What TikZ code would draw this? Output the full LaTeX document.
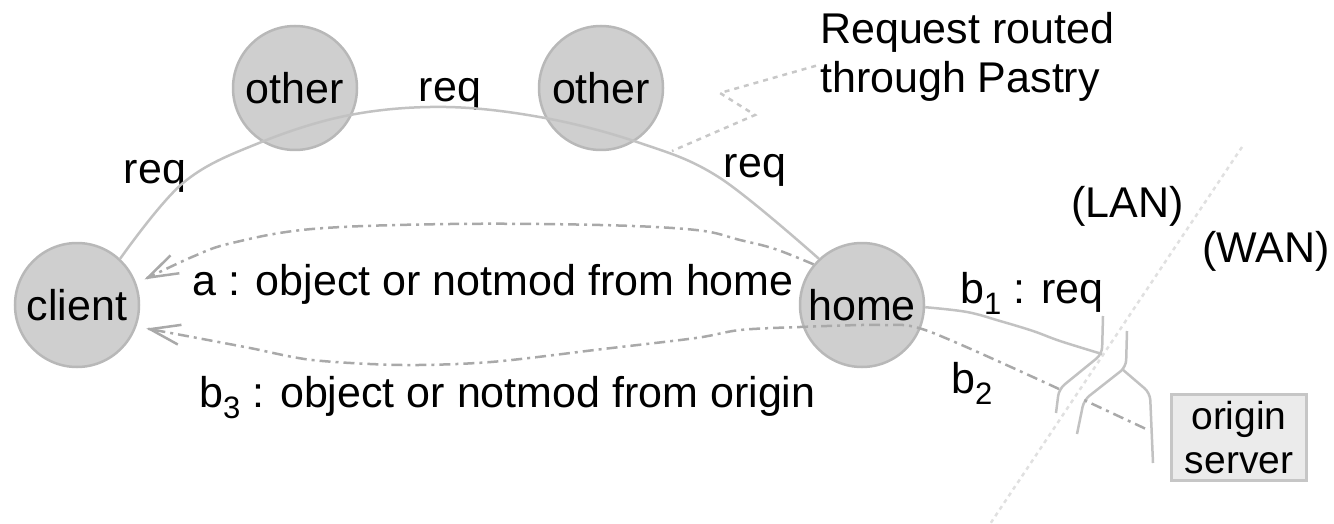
\documentclass[tikz,border=0pt]{standalone}
\usepackage{fontspec}
\setmainfont{Liberation Sans}
\usetikzlibrary{arrows.meta}
\definecolor{nodefill}{HTML}{CFCFCF}
\definecolor{nodeline}{HTML}{B8B8B8}
\definecolor{arcgray}{HTML}{C2C2C2}
\definecolor{dashgray}{HTML}{A9A9A9}
\definecolor{boxfill}{HTML}{EBEBEB}
\definecolor{boxline}{HTML}{C6C6C6}
\definecolor{zonegray}{HTML}{E0E0E0}
\definecolor{calloutgray}{HTML}{C8C8C8}
\newcommand{\lowsub}[1]{\raisebox{-11pt}{\fontsize{31}{31}\selectfont #1}}
\begin{document}
\begin{tikzpicture}[x=1pt,y=-1pt,
  font=\fontsize{43}{49}\selectfont,
  peer/.style={circle,fill=nodefill,draw=nodeline,line width=2.5pt,minimum size=124pt,inner sep=0pt},
  lbl/.style={inner sep=0pt,anchor=base},
  lblw/.style={inner sep=0pt,anchor=base west},
  reqline/.style={draw=arcgray,line width=2.5pt},
  replyline/.style={draw=dashgray,line width=2.5pt,dash pattern=on 11pt off 5pt on 3pt off 5pt},
  breakline/.style={draw=arcgray,line width=2.5pt,rounded corners=7pt},
  zoneline/.style={draw=zonegray,line width=2.5pt,dash pattern=on 4pt off 4pt},
  calloutline/.style={draw=calloutgray,line width=2.5pt,dash pattern=on 5pt off 5pt},
  openhead/.style={-{Straight Barb[length=30pt,width=20pt]}}]
\useasboundingbox (0,0) rectangle (1334,524);

% nodes
\node[peer] (client) at (77,305) {client};
\node[peer] (other1) at (295,88) {other};
\node[peer] (other2) at (601,88) {other};
\node[peer] (home) at (862,305) {home};
\node[draw=boxline,fill=boxfill,line width=3pt,minimum width=135pt,minimum height=86pt,
      inner sep=0pt,align=center,font=\fontsize{39}{44}\selectfont] (origin) at (1239,437.5) {origin\\server};

% LAN / WAN boundary
\coordinate (zonetop) at (1242,147);
\coordinate (zonebot) at (990,524);
\draw[zoneline] (zonetop) -- (zonebot);

% labels
\node[lbl] (reqA) at (155,183) {req};
\node[lbl] (reqB) at (450,102) {req};
\node[lbl] (reqC) at (755,178) {req};
\node[inner sep=0pt,anchor=north west,align=left] (callout) at (820,12) {Request routed\\through Pastry};
\node[lblw] (lan) at (1071,218) {(LAN)};
\node[lblw] (wan) at (1202,262) {(WAN)};
\node[lblw] (la) at (192,295) {a : object or notmod from home};
\node[lblw] (lb3) at (199,407) {b\lowsub{3} : object or notmod from origin};
\node[lblw] (lb1) at (960,303) {b\lowsub{1} : req};
\node[lblw] (lb2) at (951,393) {b\lowsub{2}};

% request routed through Pastry
\draw[reqline] plot[smooth,tension=0.6] coordinates {(client.47) (183,183) (259,143) (350,115) (446,107) (545,118) (640,143) (720,178) (home.133)};

% callout
\coordinate (pastryhit) at (672,151);
\draw[calloutline] ([shift={(-4,9)}]callout.west) -- (720,93) -- (755,115) -- (pastryhit);

% a : object or notmod from home
\draw[replyline,openhead,shorten >=9pt] plot[smooth,tension=0.6] coordinates {(home.140) (775,249) (740,240) (696,230) (600,225) (450,224) (312,229) (232,243) (192,257) (client.20)};

% break marks at the LAN/WAN boundary
\coordinate (brkA) at (1102,354);
\coordinate (brkAlow) at (1059,389);
\coordinate (brkB) at (1122,369);
\coordinate (brkBlow) at (1084,400);
\draw[breakline] (1103,316) -- (brkA) -- (brkAlow) -- (1056,413);
\draw[breakline] (1127,331) -- (1126,367) -- (brkBlow) -- (1077,434);

% b1 : req  (home -> origin)
\draw[reqline] plot[smooth,tension=0.6] coordinates {(home.-2) (967,312) (1000,321) (1033,331) (1060,341) (brkA)};
\draw[breakline] (brkB) -- (1150,393) -- ([shift={(-86,-19)}]origin.south);

% b2 (origin -> home) and b3 (home -> client)
\draw[replyline] ([shift={(-25,-9)}]origin.west) -- (brkBlow);
\draw[replyline,openhead,shorten >=10pt] plot[smooth,tension=0.5] coordinates {(brkAlow) (928,331) (880,325) (800,327) (740,330) (696,338) (603,349) (491,362) (402,365) (312,360) (250,348) (192,337) (client.-20)};
\end{tikzpicture}
\end{document}
